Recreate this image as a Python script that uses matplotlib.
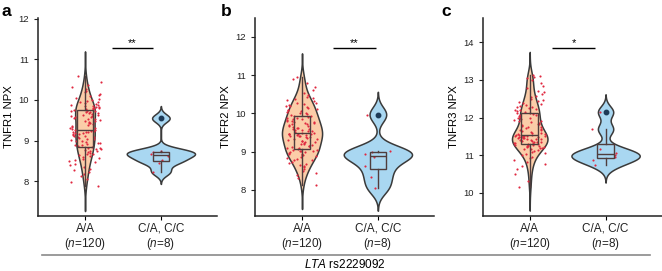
import numpy as np
import matplotlib.pyplot as plt
from matplotlib.lines import Line2D

plt.rcParams['font.family'] = ['Liberation Sans', 'DejaVu Sans']
plt.rcParams['mathtext.fontset'] = 'custom'
plt.rcParams['mathtext.rm'] = 'Liberation Sans'
plt.rcParams['mathtext.it'] = 'Liberation Sans:italic'

# genotype groups
groups = ['A/A', 'C/A, C/C']
group_n = [120, 8]
ylabels = ['TNFR1 NPX', 'TNFR2 NPX', 'TNFR3 NPX']
letters = ['a', 'b', 'c']
stars = ['**', '**', '*']
yticks = [[8, 9, 10, 11, 12], [8, 9, 10, 11, 12], [10, 11, 12, 13, 14]]

# values (NPX)
tnfr1_aa = [7.88, 7.98, 8.05, 8.12, 8.18, 8.22, 8.27, 8.31, 8.35, 8.39, 8.42, 8.46, 8.49, 8.52, 8.55,
            8.58, 8.60, 8.62, 8.64, 8.66, 8.68, 8.70, 8.72, 8.73, 8.75, 8.77, 8.78, 8.80, 8.81, 8.82,
            8.84, 8.86, 8.88, 8.90, 8.92, 8.93, 8.95, 8.97, 8.98, 9.00, 9.02, 9.03, 9.05, 9.06, 9.08,
            9.09, 9.11, 9.12, 9.14, 9.15, 9.17, 9.18, 9.19, 9.20, 9.21, 9.22, 9.23, 9.24, 9.25, 9.26,
            9.28, 9.30, 9.32, 9.34, 9.36, 9.38, 9.40, 9.42, 9.43, 9.45, 9.47, 9.48, 9.50, 9.52, 9.53,
            9.55, 9.57, 9.58, 9.60, 9.61, 9.63, 9.64, 9.66, 9.67, 9.68, 9.70, 9.71, 9.72, 9.73, 9.74,
            9.76, 9.77, 9.78, 9.79, 9.80, 9.81, 9.82, 9.83, 9.84, 9.86, 9.87, 9.88, 9.90, 9.92, 9.94,
            9.96, 9.98, 10.00, 10.03, 10.06, 10.09, 10.12, 10.15, 10.19, 10.23, 10.27, 10.32, 10.38, 10.45, 10.58]
tnfr1_ca = [8.23, 8.45, 8.52, 8.62, 8.68, 8.72, 8.75, 9.55]

tnfr2_aa = [8.12, 8.30, 8.38, 8.45, 8.50, 8.55, 8.59, 8.62, 8.65, 8.68, 8.71, 8.74, 8.77, 8.79, 8.82,
            8.84, 8.86, 8.88, 8.90, 8.92, 8.94, 8.95, 8.97, 8.98, 9.00, 9.01, 9.02, 9.03, 9.04, 9.05,
            9.07, 9.09, 9.10, 9.12, 9.14, 9.15, 9.17, 9.19, 9.20, 9.22, 9.24, 9.25, 9.27, 9.29, 9.30,
            9.32, 9.34, 9.35, 9.37, 9.38, 9.40, 9.41, 9.42, 9.43, 9.44, 9.45, 9.46, 9.46, 9.47, 9.47,
            9.49, 9.50, 9.51, 9.53, 9.54, 9.56, 9.57, 9.59, 9.60, 9.62, 9.63, 9.65, 9.66, 9.68, 9.69,
            9.71, 9.72, 9.74, 9.75, 9.77, 9.78, 9.80, 9.81, 9.83, 9.84, 9.86, 9.88, 9.89, 9.91, 9.92,
            9.94, 9.96, 9.98, 10.00, 10.02, 10.04, 10.06, 10.08, 10.10, 10.12, 10.14, 10.16, 10.18, 10.20, 10.22,
            10.24, 10.26, 10.28, 10.31, 10.34, 10.37, 10.40, 10.44, 10.48, 10.53, 10.60, 10.68, 10.80, 10.90, 10.95]
tnfr2_ca = [8.05, 8.35, 8.62, 8.86, 8.93, 8.99, 9.02, 9.97]

tnfr3_aa = [10.15, 10.32, 10.50, 10.62, 10.70, 10.77, 10.83, 10.88, 10.92, 10.96, 11.00, 11.03, 11.06, 11.09, 11.11,
            11.13, 11.15, 11.17, 11.18, 11.20, 11.21, 11.22, 11.23, 11.24, 11.25, 11.26, 11.27, 11.28, 11.29, 11.29,
            11.31, 11.32, 11.33, 11.34, 11.35, 11.36, 11.37, 11.38, 11.39, 11.40, 11.41, 11.42, 11.43, 11.44, 11.45,
            11.46, 11.46, 11.47, 11.48, 11.48, 11.49, 11.50, 11.50, 11.51, 11.51, 11.52, 11.52, 11.53, 11.53, 11.53,
            11.55, 11.56, 11.58, 11.60, 11.62, 11.64, 11.66, 11.68, 11.70, 11.72, 11.74, 11.76, 11.78, 11.80, 11.82,
            11.84, 11.86, 11.88, 11.90, 11.92, 11.94, 11.96, 11.98, 12.00, 12.02, 12.04, 12.06, 12.08, 12.10, 12.11,
            12.13, 12.15, 12.17, 12.19, 12.21, 12.23, 12.25, 12.27, 12.29, 12.31, 12.33, 12.35, 12.38, 12.41, 12.44,
            12.47, 12.50, 12.54, 12.58, 12.62, 12.67, 12.72, 12.78, 12.85, 12.92, 13.00, 13.05, 13.08, 13.10, 13.12]
tnfr3_ca = [10.74, 10.88, 10.95, 11.00, 11.06, 11.15, 11.69, 12.15]

panels = [(tnfr1_aa, tnfr1_ca), (tnfr2_aa, tnfr2_ca), (tnfr3_aa, tnfr3_ca)]

fills = ['#FBCDA8', '#A9D7F1']
outline = '#3a3a3a'
box_col = '#4f3d3d'
point_col = '#E0283F'


def nrd0(x):
    x = np.asarray(x)
    iqr = np.subtract(*np.percentile(x, [75, 25]))
    lo = min(np.std(x, ddof=1), iqr / 1.34)
    return 0.9 * lo * len(x) ** -0.2


def kde(x):
    x = np.asarray(x)
    bw = nrd0(x)
    grid = np.linspace(x.min() - 3 * bw, x.max() + 3 * bw, 512)
    dens = np.exp(-0.5 * ((grid[:, None] - x[None, :]) / bw) ** 2).sum(axis=1)
    dens /= len(x) * bw * np.sqrt(2 * np.pi)
    return grid, dens


def spread(n, seed):
    # deterministic scatter of jitter offsets in [-0.5, 0.5)
    k = np.arange(n) + 1
    return np.abs(np.sin(k * 12.9898 + seed * 78.233) * 43758.5453) % 1 - 0.5


fig = plt.figure(figsize=(6.62, 2.71), dpi=100)
W, H = 662, 271
lefts = [38, 255, 482.7]
ylims = [(7.14, 12.02), (7.32, 12.49), (9.38, 14.65)]
sig = [(1.35, 1.89, 11.28), (1.41, 1.97, 11.70), (1.30, 1.86, 13.84)]
letter_x = [2, 221, 441]

for i, (aa, ca) in enumerate(panels):
    ax = fig.add_axes([lefts[i] / W, (H - 216) / H, 179 / W, 198 / H])
    data = [aa, ca]

    # violins, scaled by area within the panel
    kdes = [kde(d) for d in data]
    dmax = max(k[1].max() for k in kdes)
    for j, (g, d) in enumerate(kdes):
        hw = 0.45 * d / dmax
        ax.fill_betweenx(g, j + 1 - hw, j + 1 + hw, facecolor=fills[j],
                         edgecolor=outline, linewidth=1.1, zorder=1)

    # jittered points
    for j, d in enumerate(data):
        off = spread(len(d), i * 2 + j) * 0.42
        ax.scatter(j + 1 + off, d, s=2.4, color=point_col, linewidths=0, zorder=2)

    ax.boxplot(data, positions=[1, 2], widths=0.22, showcaps=False, patch_artist=True,
               boxprops=dict(facecolor='none', edgecolor=box_col, linewidth=1.0),
               whiskerprops=dict(color=box_col, linewidth=1.0),
               medianprops=dict(color=box_col, linewidth=1.0),
               flierprops=dict(marker='o', markersize=3.2, markerfacecolor='#1d3a57',
                               markeredgecolor='#1d3a57'),
               zorder=3)

    x0, x1, ys = sig[i]
    ax.plot([x0, x1], [ys, ys], color='black', lw=1.0, solid_capstyle='butt')
    ax.text((x0 + x1) / 2, ys, stars[i], ha='center', va='bottom', fontsize=8)

    ax.set_xlim(0.38, 2.74)
    ax.set_ylim(*ylims[i])
    ax.set_yticks(yticks[i])
    ax.set_xticks([1, 2])
    ax.set_xticklabels([f'{g}\n($\\it{{n}}$={n})' for g, n in zip(groups, group_n)],
                       fontsize=8.5, color='#222222', linespacing=1.1)
    ax.tick_params(axis='y', labelsize=6.8, colors='#222222', length=3, width=0.8)
    ax.tick_params(axis='x', length=3, width=0.8, pad=2)
    ax.set_ylabel(ylabels[i], fontsize=8.2, labelpad=3)
    for s in ['top', 'right']:
        ax.spines[s].set_visible(False)
    for s in ['left', 'bottom']:
        ax.spines[s].set_linewidth(1.1)
        ax.spines[s].set_color('#222222')

    fig.text(letter_x[i] / W, 1 - 4 / H, letters[i], fontsize=12.5, fontweight='bold',
             ha='left', va='top')

fig.add_artist(Line2D([42 / W, 650 / W], [1 - 255 / H, 1 - 255 / H], color='#8a8a8a', lw=1.2))
fig.text(345 / W, 1 - 265 / H, '$\\it{LTA}$ rs2229092', ha='center', va='center', fontsize=8.5)

fig.savefig('out.png', dpi=100)
